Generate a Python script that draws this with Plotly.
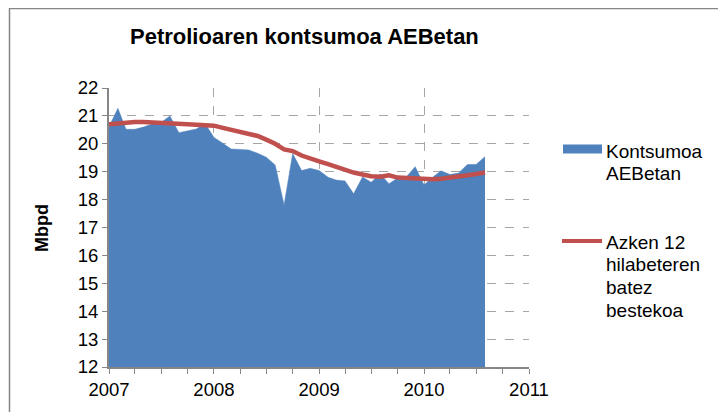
import plotly.graph_objects as go
import pandas as pd

# ---------------- data ----------------
months = pd.date_range("2007-01-01", periods=44, freq="MS").strftime("%Y-%m-%d").tolist()

consumption = [20.61, 21.27, 20.52, 20.52, 20.60, 20.71, 20.76, 21.00, 20.40, 20.47,
               20.53, 20.73, 20.23, 20.02, 19.81, 19.80, 19.78, 19.66, 19.52, 19.24,
               17.81, 19.65, 19.04, 19.12, 19.04, 18.80, 18.70, 18.67, 18.21, 18.81,
               18.62, 18.92, 18.57, 18.77, 18.82, 19.18, 18.52, 18.81, 19.03, 18.90,
               18.95, 19.26, 19.26, 19.54]

avg12 = [20.70, 20.74, 20.76, 20.78, 20.78, 20.77, 20.76, 20.74, 20.72, 20.70,
         20.68, 20.67, 20.65, 20.57, 20.50, 20.43, 20.36, 20.28, 20.15, 20.00,
         19.80, 19.74, 19.58, 19.46, 19.37, 19.27, 19.17, 19.07, 18.97, 18.90,
         18.84, 18.82, 18.87, 18.79, 18.77, 18.76, 18.73, 18.73, 18.75, 18.78,
         18.83, 18.87, 18.92, 18.97]

title_text = "Petrolioaren kontsumoa AEBetan"
y_title = "Mbpd"
legend1_lines = ["Kontsumoa", "AEBetan"]
legend2_lines = ["Azken 12", "hilabeteren", "batez", "bestekoa"]

# ---------------- layout geometry ----------------
# page has an 8px body margin; figure occupies page x 8..726, y 8..412
OFF = 8
W, H = 718, 404
L, R, T, B = 101, 197, 80, 45
PW, PH = W - L - R, H - T - B

def px(x):  # page pixel -> paper x
    return (x - OFF - L) / PW

def py(y):  # page pixel -> paper y
    return (H - B - (y - OFF)) / PH

FONT = "Liberation Sans, Arial, sans-serif"
BLUE = "#4F81BD"
RED = "#C0504D"
AXIS = "#868686"
GRID = "#A6A6A6"

fig = go.Figure()
fig.add_trace(go.Scatter(x=months, y=consumption, mode="lines", fill="tozeroy",
                         fillcolor=BLUE, line=dict(color=BLUE, width=0.5),
                         showlegend=False))
fig.add_trace(go.Scatter(x=months, y=avg12, mode="lines",
                         line=dict(color=RED, width=4.5), showlegend=False))

fig.update_layout(
    width=W, height=H,
    margin=dict(l=L, r=R, t=T, b=B),
    paper_bgcolor="white", plot_bgcolor="white",
    font=dict(family=FONT, size=18, color="black"),
    xaxis=dict(type="date", range=["2007-01-01", "2011-01-01"],
               dtick="M12", tick0="2007-01-01", tickformat="%Y",
               showgrid=True, gridcolor=GRID, griddash="dash", gridwidth=1,
               showline=True, linecolor=AXIS, linewidth=2,
               ticks="outside", ticklen=5, tickcolor=AXIS, tickwidth=1,
               tickfont=dict(size=18.5), zeroline=False,
               minor=dict(dtick="M3", ticks="outside", ticklen=5,
                          tickcolor=AXIS, tickwidth=1, showgrid=False)),
    yaxis=dict(range=[12, 22], dtick=1, tick0=12,
               showgrid=True, gridcolor=GRID, griddash="dash", gridwidth=1,
               showline=True, linecolor=AXIS, linewidth=2,
               ticks="outside", ticklen=5, tickcolor=AXIS, tickwidth=1,
               tickfont=dict(size=18.5), zeroline=False),
)

ann = []
ann.append(dict(text="<b>" + title_text + "</b>", x=px(304), y=py(36),
                xref="paper", yref="paper", showarrow=False,
                xanchor="center", yanchor="middle",
                font=dict(size=22, family=FONT)))
ann.append(dict(text="<b>" + y_title + "</b>", x=px(42), y=py(228),
                xref="paper", yref="paper", showarrow=False, textangle=-90,
                xanchor="center", yanchor="middle",
                font=dict(size=18, family=FONT)))
for i, t in enumerate(legend1_lines):
    ann.append(dict(text=t, x=px(604), y=py(151 + 22.5 * i), xref="paper", yref="paper",
                    showarrow=False, xanchor="left", yanchor="middle",
                    font=dict(size=19, family=FONT)))
for i, t in enumerate(legend2_lines):
    ann.append(dict(text=t, x=px(604), y=py(242 + 22.8 * i), xref="paper", yref="paper",
                    showarrow=False, xanchor="left", yanchor="middle",
                    font=dict(size=19, family=FONT)))
fig.update_layout(annotations=ann)

shapes = [
    # chart border (left and top edges visible)
    dict(type="rect", xref="paper", yref="paper", x0=px(9.5), x1=px(760),
         y0=py(440), y1=py(8.5), line=dict(color=AXIS, width=1.5), fillcolor="rgba(0,0,0,0)"),
    # legend swatches
    dict(type="rect", xref="paper", yref="paper", x0=px(563), x1=px(602),
         y0=py(153.5), y1=py(144.5), line=dict(width=0), fillcolor=BLUE),
    dict(type="line", xref="paper", yref="paper", x0=px(562), x1=px(602),
         y0=py(241), y1=py(241), line=dict(color=RED, width=4)),
]
fig.update_layout(shapes=shapes)

fig.write_html("out.html")
